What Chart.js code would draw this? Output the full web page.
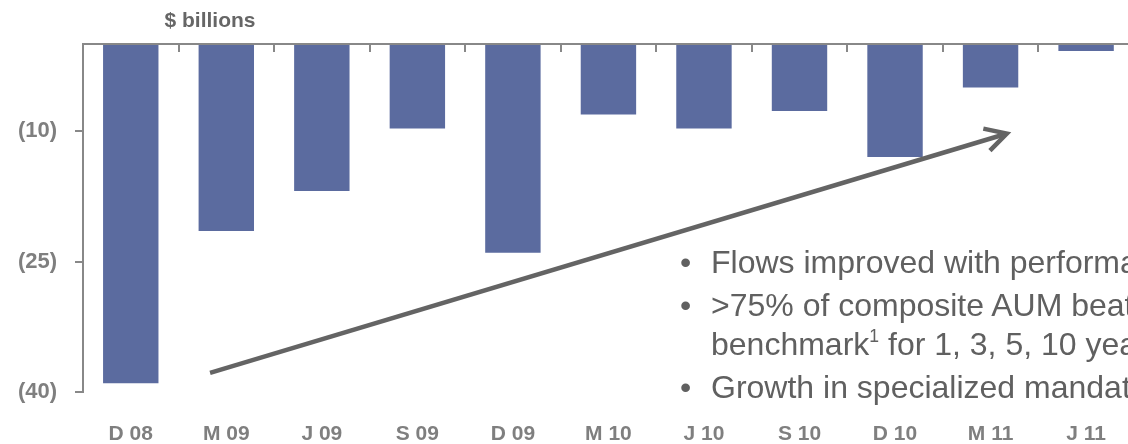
<!DOCTYPE html>
<html>
<head>
<meta charset="utf-8">
<script src="https://cdn.jsdelivr.net/npm/chart.js@4.4.1/dist/chart.umd.min.js"></script>
<style>
  html, body { margin: 0; padding: 0; background: #fff; overflow: hidden; width: 1128px; height: 444px; }
  #wrap { position: relative; width: 1136px; height: 444px; }
  canvas { position: absolute; left: 0; top: 0; }
  .note { position: absolute; white-space: nowrap; font-family: "Liberation Sans", Arial, sans-serif; }
  .unit { left: 110px; width: 200px; text-align: center; top: 9px; font-size: 21px; line-height: 21px; font-weight: bold; color: #666; }
  .bl { font-size: 32px; line-height: 32px; color: #606060; left: 711px; }
  .dot { position: absolute; left: -31px; font-size: 32px; }
  sup { font-size: 55%; line-height: 0; vertical-align: 0.75em; }
</style>
</head>
<body>
<div id="wrap">
  <canvas id="c" width="1136" height="444"></canvas>
  <div class="note unit">$ billions</div>
  <div class="note bl" style="top:246px"><span class="dot">•</span>Flows improved with performance</div>
  <div class="note bl" style="top:289px"><span class="dot">•</span>&gt;75% of composite AUM beat</div>
  <div class="note bl" style="top:328px">benchmark<sup>1</sup> for 1, 3, 5, 10 years</div>
  <div class="note bl" style="top:371px"><span class="dot">•</span>Growth in specialized mandates</div>
</div>
<script>
const categories = ['D 08','M 09','J 09','S 09','D 09','M 10','J 10','S 10','D 10','M 11','J 11'];
const netFlows = [-39.0, -21.5, -16.9, -9.7, -24.0, -8.1, -9.7, -7.7, -13.0, -5.0, -0.8];
const yTickValues = [-40, -25, -10];
const arrowStart = [0.83, -37.8];
const arrowEnd = [9.17, -10.3];

const axisGray = '#888888';

const overlay = {
  id: 'overlay',
  afterDatasetsDraw(chart) {
    const ctx = chart.ctx, xs = chart.scales.x, ys = chart.scales.y, ca = chart.chartArea;
    const y0 = ys.getPixelForValue(0);
    ctx.save();
    ctx.strokeStyle = axisGray;
    ctx.lineWidth = 2;
    ctx.beginPath();
    ctx.moveTo(ca.left, y0);
    ctx.lineTo(ca.right + 10, y0);
    const n = categories.length;
    for (let k = 1; k <= n; k++) {
      const bx = Math.round((xs.getPixelForValue(k - 1) + xs.getPixelForValue(k)) / 2);
      ctx.moveTo(bx, y0);
      ctx.lineTo(bx, y0 + 8);
    }
    ctx.stroke();

    // trend arrow
    const x1 = xs.getPixelForValue(arrowStart[0]), yA = ys.getPixelForValue(arrowStart[1]);
    const x2 = xs.getPixelForValue(arrowEnd[0]), yB = ys.getPixelForValue(arrowEnd[1]);
    const th = Math.atan2(yB - yA, x2 - x1);
    ctx.strokeStyle = '#646464';
    ctx.lineWidth = 4.5;
    ctx.lineCap = 'butt';
    ctx.lineJoin = 'miter';
    ctx.beginPath();
    ctx.moveTo(x1, yA);
    ctx.lineTo(x2 - 3 * Math.cos(th), yB - 3 * Math.sin(th));
    ctx.stroke();
    const L = 24, a = 0.5;
    ctx.beginPath();
    ctx.moveTo(x2 - L * Math.cos(th - a), yB - L * Math.sin(th - a));
    ctx.lineTo(x2, yB);
    ctx.lineTo(x2 - L * Math.cos(th + a), yB - L * Math.sin(th + a));
    ctx.stroke();
    ctx.restore();
  }
};

new Chart(document.getElementById('c'), {
  type: 'bar',
  data: {
    labels: categories,
    datasets: [{
      data: netFlows,
      backgroundColor: '#5B6B9F',
      borderWidth: 0,
      barPercentage: 0.58,
      categoryPercentage: 1.0
    }]
  },
  options: {
    responsive: false,
    devicePixelRatio: 1,
    animation: false,
    layout: { padding: { left: 0, right: 1, top: 44, bottom: 0 } },
    plugins: { legend: { display: false }, tooltip: { enabled: false }, title: { display: false } },
    scales: {
      x: {
        position: 'bottom',
        grid: { display: false, drawTicks: false },
        border: { display: false },
        ticks: {
          color: '#7f7f7f',
          font: { family: 'Liberation Sans, Arial, sans-serif', size: 21, weight: 'bold' },
          padding: 30,
          maxRotation: 0,
          autoSkip: false
        },
        afterFit(s) { s.height = 52; }
      },
      y: {
        min: -40,
        max: 0,
        grid: { drawOnChartArea: false, drawTicks: true, tickLength: 8, color: axisGray, lineWidth: 2 },
        border: { display: true, color: axisGray, width: 2 },
        afterBuildTicks(s) { s.ticks = yTickValues.map(v => ({ value: v })); },
        ticks: {
          color: '#7f7f7f',
          padding: 18,
          font: { family: 'Liberation Sans, Arial, sans-serif', size: 22, weight: 'bold' },
          callback: v => '(' + Math.abs(v) + ')'
        },
        afterFit(s) { s.width = 83; }
      }
    }
  },
  plugins: [overlay]
});
</script>
</body>
</html>
